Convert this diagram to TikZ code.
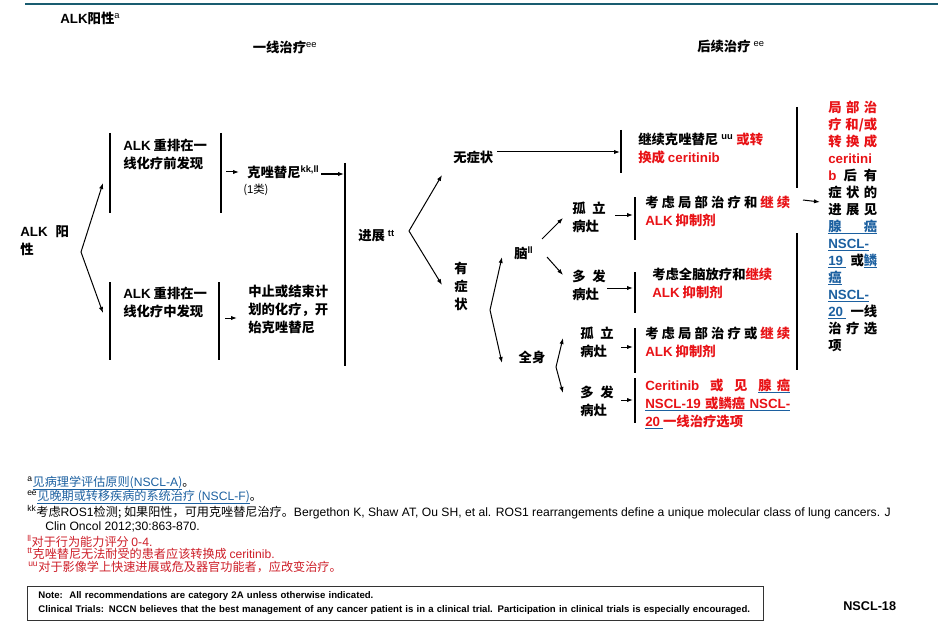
\documentclass[tikz,border=0pt]{standalone}
\usepackage{fontspec}
\setmainfont{Noto Sans CJK SC}
\newfontfamily\latf{Liberation Sans}
\usetikzlibrary{arrows.meta,positioning}

\definecolor{topc}{RGB}{25,92,112}
\definecolor{nred}{RGB}{232,18,22}
\definecolor{nblue}{RGB}{28,96,160}
\definecolor{fnred}{RGB}{205,30,40}

\newsavebox\ulbox
\newcommand\lat[1]{{\latf #1}}
\newcommand\rul[1]{\sbox\ulbox{#1}\rlap{\color{nblue}\rule[-2pt]{\wd\ulbox}{0.6pt}}\usebox\ulbox}
\newcommand\rd[1]{\textcolor{nred}{#1}}
\newcommand\lk[1]{\textcolor{nblue}{\rul{#1}}}
\newcommand\jw[1]{\makebox[108.75pt][s]{#1}}
\newcommand\jc[1]{\makebox[36.75pt][s]{#1}}

\begin{document}
\begin{tikzpicture}[
		x=0.75pt, y=-0.75pt,
		tx/.style={anchor=west, inner sep=0pt, align=left, font=\fontsize{10}{13.5}\selectfont\bfseries},
		hd/.style={inner sep=0pt, font=\fontsize{10}{12}\selectfont\bfseries},
		fn/.style={anchor=west, inner sep=0pt, font=\fontsize{9.1}{11}\selectfont},
		bar/.style={line width=0.9pt},
		fl/.style={->, line width=0.75pt},
		>={Latex[length=4.5pt,width=3.2pt]}
	]
	\useasboundingbox (0,0) rectangle (938,638);
	\draw[line width=2.2pt, topc] (25,4) -- (938,4);

	% headings
	\node[hd, anchor=west] (ttl) at (60,18) {\lat{ALK}阳性\textsuperscript{\lat{\mdseries a}}};
	\node[hd] (h1) at (285,47) {一线治疗\textsuperscript{\lat{\mdseries ee}}};
	\node[hd] (h2) at (731,46) {后续治疗 \textsuperscript{\lat{\mdseries ee}}};

	% first line
	\node[tx] (alk) at (20,241) {\lat{ALK}\hspace{6pt}阳\\性};
	\node[tx] (pre) at (123,154) {\lat{ALK} 重排在一\\线化疗前发现};
	\node[tx] (dur) at (123,302) {\lat{ALK} 重排在一\\线化疗中发现};
	\node[tx] (criz) at (247,172) {克唑替尼\textsuperscript{\lat{kk,ll}}};
	\node[tx, font=\fontsize{8.5}{10}\selectfont] (cls) at (243,190) {(\lat{1}类)};
	\node[tx] (stop) at (248,309) {中止或结束计\\划的化疗，开\\始克唑替尼};

	% progression
	\node[tx] (prog) at (358,236) {进展 \textsuperscript{\lat{tt}}};
	\node[tx] (asym) at (453,157) {无症状};
	\node[tx, anchor=center, align=center] (sym) at (461,286) {有\\症\\状};
	\node[tx] (brain) at (514,253) {脑\textsuperscript{\lat{ll}}};
	\node[tx] (bsol) at (572,217) {孤\hspace{5pt}立\\病灶};
	\node[tx] (bmul) at (572,285) {多\hspace{5pt}发\\病灶};
	\node[tx, anchor=center] (sys) at (532,357) {全身};
	\node[tx] (ssol) at (580,342) {孤\hspace{5pt}立\\病灶};
	\node[tx] (smul) at (580,401) {多\hspace{5pt}发\\病灶};

	% subsequent therapy
	\node[tx] (cont) at (638,148) {继续克唑替尼 \textsuperscript{\lat{uu}} \rd{或转}\\\rd{换成 \lat{ceritinib}}};
	\node[tx] (loc1) at (645,211) {\jw{考 虑 局 部 治 疗 和 \rd{继 续}}\\\rd{\lat{ALK} 抑制剂}};
	\node[tx] (wbrt) at (652,283) {考虑全脑放疗和\rd{继续}\\\rd{\lat{ALK} 抑制剂}};
	\node[tx] (loc2) at (645,342) {\jw{考 虑 局 部 治 疗 或 \rd{继 续}}\\\rd{\lat{ALK} 抑制剂}};
	\node[tx, text=nred] (cer) at (645,404) {\jw{\lat{Ceritinib} 或 见 \rul{腺\hspace{4pt}癌}}\\\rul{\jw{\lat{NSCL-19} 或鳞癌 \lat{NSCL-}}}\\\rul{\lat{20}\ }一线治疗选项};
	\node[tx, font=\fontsize{10}{12.75}\selectfont\bfseries] (rc) at (828,226) {%
		\rd{\jc{局 部 治}}\\
		\rd{\jc{疗 和/或}}\\
		\rd{\jc{转 换 成}}\\
		\rd{\lat{ceritini}}\\
		\jc{\rd{\lat{b}} 后 有}\\
		\jc{症 状 的}\\
		\jc{进 展 见}\\
		\lk{\jc{腺 癌}}\\
		\lk{\lat{NSCL-}}\\
		\jc{\lk{\lat{19}\ } 或\lk{鳞}}\\
		\lk{癌}\\
		\lk{\lat{NSCL-}}\\
		\jc{\lk{\lat{20}\ } 一线}\\
		\jc{治 疗 选}\\
		项};

	% brackets
	\draw[bar] (110,133) -- (110,213);
	\draw[bar] (110,282) -- (110,360);
	\draw[bar] (221,133) -- (221,213);
	\draw[bar] (219,282) -- (219,360);
	\draw[bar] (345,163) -- (345,366);
	\draw[bar] (621,130) -- (621,173);
	\draw[bar] (635,197) -- (635,240);
	\draw[bar] (635,272) -- (635,313);
	\draw[bar] (635,328) -- (635,373);
	\draw[bar] (635,378) -- (635,423);
	\draw[bar] (797,107) -- (797,188);
	\draw[bar] (797,233) -- (797,370);

	% arrows
	\coordinate (f0) at (81,252);
	\coordinate (preIn) at (103,183);
	\coordinate (durIn) at (103,313);
	\coordinate (preOut) at (226,172);
	\coordinate (crizIn) at (239,172);
	\coordinate (durOut) at (225,318);
	\coordinate (stopIn) at (237,318);
	\coordinate (crizOut) at (321,174);
	\coordinate (bigIn) at (344,174);
	\coordinate (f1) at (409,231);
	\coordinate (asymIn) at (442,175);
	\coordinate (symIn) at (442,285);
	\coordinate (asymOut) at (497,152);
	\coordinate (contIn) at (620,152);
	\coordinate (f2) at (490,310);
	\coordinate (brainIn) at (502,257);
	\coordinate (sysIn) at (502,363);
	\coordinate (f3a) at (542,239);
	\coordinate (bsolIn) at (563,218);
	\coordinate (f3b) at (547,257);
	\coordinate (bmulIn) at (563,275);
	\coordinate (f4) at (556,367);
	\coordinate (ssolIn) at (563,338);
	\coordinate (smulIn) at (563,393);
	\coordinate (bsolOut) at (615,215);
	\coordinate (loc1In) at (633,215);
	\coordinate (bmulOut) at (607,288);
	\coordinate (wbrtIn) at (633,288);
	\coordinate (ssolOut) at (621,347);
	\coordinate (loc2In) at (633,347);
	\coordinate (smulOut) at (621,400);
	\coordinate (cerIn) at (633,400);
	\coordinate (colOut) at (803,200);
	\coordinate (rcIn) at (820,202);

	\draw[fl] (f0) -- (preIn);
	\draw[fl] (f0) -- (durIn);
	\draw[fl] (preOut) -- (crizIn);
	\draw[fl] (durOut) -- (stopIn);
	\draw[fl] (crizOut) -- (bigIn);
	\draw[fl] (f1) -- (asymIn);
	\draw[fl] (f1) -- (symIn);
	\draw[fl] (asymOut) -- (contIn);
	\draw[fl] (f2) -- (brainIn);
	\draw[fl] (f2) -- (sysIn);
	\draw[fl] (f3a) -- (bsolIn);
	\draw[fl] (f3b) -- (bmulIn);
	\draw[fl] (f4) -- (ssolIn);
	\draw[fl] (f4) -- (smulIn);
	\draw[fl] (bsolOut) -- (loc1In);
	\draw[fl] (bmulOut) -- (wbrtIn);
	\draw[fl] (ssolOut) -- (loc2In);
	\draw[fl] (smulOut) -- (cerIn);
	\draw[fl] (colOut) -- (rcIn);

	% footnotes
	\node[fn] (fna) at (27,483) {\textsuperscript{\lat{a}}\lk{见病理学评估原则(\lat{NSCL-A})}。};
	\node[fn] (fnee) at (27,497) {\textsuperscript{\lat{ee}}\lk{见晚期或转移疾病的系统治疗 (\lat{NSCL-F})}。};
	\node[fn] (fnkk) at (27,512) {\textsuperscript{\lat{kk}}考虑\lat{ROS1}检测; 如果阳性，可用克唑替尼治疗。\lat{Bergethon K, Shaw AT, Ou SH, et al. ROS1 rearrangements define a unique molecular class of lung cancers. J}};
	\node[fn] (fnkk2) at (45,527) {\lat{Clin Oncol 2012;30:863-870.}};
	\node[fn, text=fnred] (fnll) at (27,541) {\textsuperscript{\lat{ll}}对于行为能力评分 \lat{0-4.}};
	\node[fn, text=fnred] (fntt) at (27,554) {\textsuperscript{\lat{tt}}克唑替尼无法耐受的患者应该转换成 \lat{ceritinib.}};
	\node[fn, text=fnred] (fnuu) at (28,567) {\textsuperscript{\lat{uu}}对于影像学上快速进展或危及器官功能者，应改变治疗。};

	% note box
	\node[draw=black!80, line width=0.6pt, anchor=north west, minimum width=552pt, minimum height=25.5pt,
		inner xsep=8.25pt, text width=535.5pt, align=left, font=\fontsize{7.2}{10.5}\selectfont\latf\bfseries] (note) at (27,586)
		{Note:\ \ All recommendations are category 2A unless otherwise indicated.\\Clinical Trials: NCCN believes that the best management of any cancer patient is in a clinical trial. Participation in clinical trials is especially encouraged.};
	\node[anchor=west, inner sep=0pt, font=\fontsize{9.5}{11}\selectfont\latf\bfseries] (page) at (843,606) {NSCL-18};
\end{tikzpicture}
\end{document}
